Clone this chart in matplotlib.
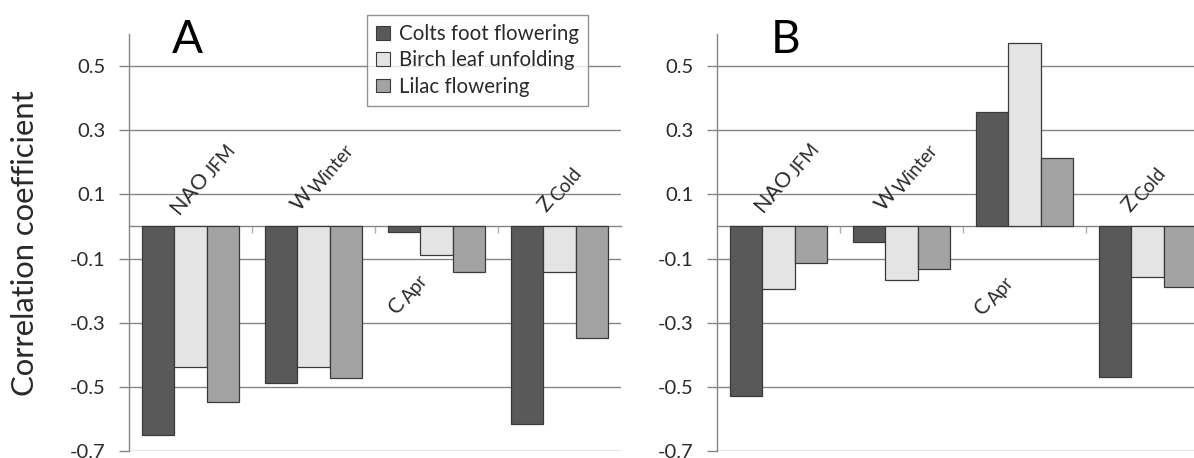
import matplotlib
matplotlib.use("Agg")
import matplotlib.pyplot as plt
import matplotlib.transforms as mtransforms
import numpy as np
from matplotlib.patches import Patch

plt.rcParams['font.family'] = ['Lato', 'DejaVu Sans']

categories = ['NAO', 'W', 'C', 'Z']
subscripts = ['JFM', 'Winter', 'Apr', 'Cold']
series = ['Colts foot flowering', 'Birch leaf unfolding', 'Lilac flowering']
colors = ['#595959', '#e4e4e4', '#a3a3a3']

panel_A = {
    'Colts foot flowering': [-0.65, -0.487, -0.017, -0.615],
    'Birch leaf unfolding': [-0.437, -0.437, -0.09, -0.141],
    'Lilac flowering': [-0.548, -0.472, -0.142, -0.348],
}
panel_B = {
    'Colts foot flowering': [-0.53, -0.05, 0.357, -0.47],
    'Birch leaf unfolding': [-0.194, -0.168, 0.572, -0.158],
    'Lilac flowering': [-0.113, -0.134, 0.212, -0.188],
}
yticks = [0.5, 0.3, 0.1, -0.1, -0.3, -0.5, -0.7]
ytick_labels = ['0.5', '0.3', '0.1', '-0.1', '-0.3', '-0.5', '-0.7']

W, H = 1194, 458
fig = plt.figure(figsize=(W / 100, H / 100), dpi=100)
renderer = fig.canvas.get_renderer()

def px_axes(x0, x1, ytop, ybot):
    return fig.add_axes([x0 / W, 1 - ybot / H, (x1 - x0) / W, (ybot - ytop) / H])

axA = px_axes(129, 621, 34, 451)
axB = px_axes(717, 1209, 34, 451)

grid_col = '#858585'
text_col = '#2a2a2a'
bw = 0.262
x = np.arange(len(categories))

def rotated_label(ax, xv, yv, main, sub, angle=50, size=15.5, subsize=13.5,
                  gap=2.0, drop=3.0):
    ax.text(xv, yv, main, rotation=angle, rotation_mode='anchor', ha='left',
            va='baseline', fontsize=size, color=text_col, zorder=4)
    tmp = fig.text(0, 0, main, fontsize=size)
    w = tmp.get_window_extent(renderer).width
    tmp.remove()
    th = np.deg2rad(angle)
    dx = (w + gap) * np.cos(th) + drop * np.sin(th)
    dy = (w + gap) * np.sin(th) - drop * np.cos(th)
    tr = mtransforms.offset_copy(ax.transData, fig=fig, x=dx, y=dy, units='dots')
    ax.text(xv, yv, sub, transform=tr, rotation=angle, rotation_mode='anchor',
            ha='left', va='baseline', fontsize=subsize, color=text_col, zorder=4)

def draw(ax, data, label_pos):
    ax.set_xlim(-0.5, len(categories) - 0.5)
    ax.set_ylim(-0.7, 0.6)
    ax.set_yticks(yticks)
    ax.set_yticklabels(ytick_labels, fontsize=14.5, color=text_col)
    ax.grid(axis='y', color=grid_col, linewidth=1.0)
    ax.set_axisbelow(True)
    for i, s in enumerate(series):
        ax.bar(x + (i - 1) * bw, data[s], width=bw, color=colors[i],
               edgecolor='#3a3a3a', linewidth=0.9, zorder=3)
    for sp in ['top', 'right']:
        ax.spines[sp].set_visible(False)
    ax.spines['left'].set_color(grid_col)
    ax.spines['left'].set_linewidth(1.0)
    ax.spines['bottom'].set_position(('data', 0))
    ax.spines['bottom'].set_color(grid_col)
    ax.spines['bottom'].set_linewidth(1.0)
    ax.spines['bottom'].set_zorder(1)
    ax.set_xticks(np.arange(0.5, len(categories) - 0.5, 1.0))
    ax.set_xticklabels([])
    ax.tick_params(axis='x', direction='out', length=5, color='#b0b0b0', width=1)
    ax.tick_params(axis='y', direction='out', length=7, color=grid_col, width=1, pad=10)
    for main, sub, (lx, ly) in zip(categories, subscripts, label_pos):
        rotated_label(ax, lx, ly, main, sub)

labA = [(-0.09, 0.036), (0.89, 0.045), (1.68, -0.276), (2.89, 0.042)]
labB = [(-0.126, 0.042), (0.857, 0.045), (1.66, -0.28), (2.86, 0.042)]
draw(axA, panel_A, labA)
draw(axB, panel_B, labB)

fig.text(172 / W, 1 - 53 / H, 'A', fontsize=33, ha='left', va='baseline', color='black')
fig.text(771 / W, 1 - 53 / H, 'B', fontsize=33, ha='left', va='baseline', color='black')

handles = [Patch(facecolor=c, edgecolor='#3a3a3a', linewidth=0.8) for c in colors]
leg = axA.legend(handles, series, loc='upper left', bbox_to_anchor=(367 / W, 1 - 15 / H),
                 bbox_transform=fig.transFigure, fontsize=14.8, frameon=True,
                 fancybox=False, edgecolor='#777777', handlelength=0.65,
                 handleheight=0.65, handletextpad=0.45, labelspacing=0.3,
                 borderpad=0.45, borderaxespad=0)
leg.get_frame().set_linewidth(1.0)
leg.set_zorder(5)
for t in leg.get_texts():
    t.set_color(text_col)

fig.text(25 / W, 1 - 243 / H, 'Correlation coefficient', rotation=90,
         fontsize=22.3, ha='center', va='center', color=text_col)

fig.savefig('out.png', dpi=100)
